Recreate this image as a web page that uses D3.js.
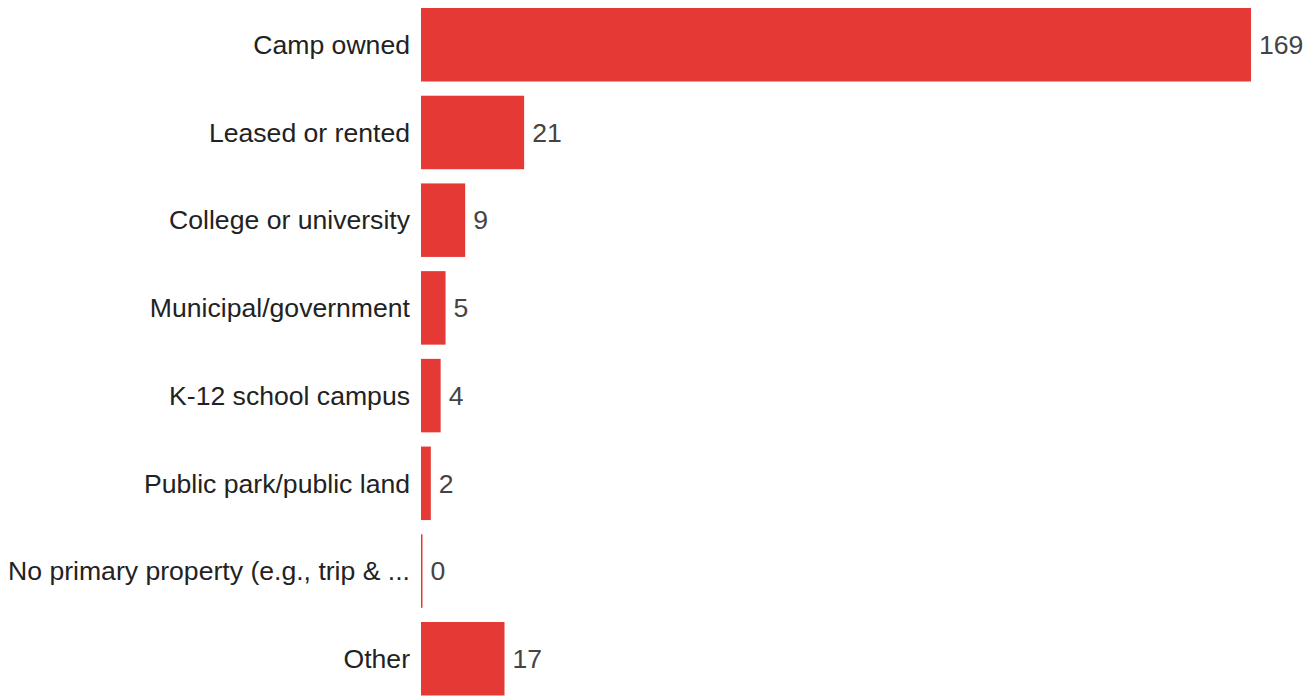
<!DOCTYPE html>
<html>
<head>
<meta charset="utf-8">
<script src="https://cdn.jsdelivr.net/npm/d3@7"></script>
<style>
  html, body { margin: 0; padding: 0; background: #fff; }
  svg { display: block; font-family: "Liberation Sans", Arial, Helvetica, sans-serif; }
</style>
</head>
<body>
<svg id="chart" width="1315" height="696"></svg>
<script>
// Primary property type for camp operations
const categories = [
  "Camp owned",
  "Leased or rented",
  "College or university",
  "Municipal/government",
  "K-12 school campus",
  "Public park/public land",
  "No primary property (e.g., trip & ...",
  "Other"
];
const counts = [169, 21, 9, 5, 4, 2, 0, 17];

const width = 1315, height = 696;
const svg = d3.select("#chart");

const x = d3.scaleLinear().domain([0, 169]).range([421, 1251]);
const y = d3.scaleBand()
  .domain(categories)
  .range([0, 703.5])
  .paddingInner(0.162)
  .paddingOuter(0.0912);

const rows = svg.append("g").selectAll("g")
  .data(categories.map((c, i) => ({ c, v: counts[i] })))
  .join("g");

rows.append("rect")
  .attr("x", x(0))
  .attr("y", d => y(d.c))
  .attr("height", y.bandwidth())
  .attr("width", d => Math.max(1.5, x(d.v) - x(0)))
  .attr("fill", "#e53935");

rows.append("text")
  .attr("x", x(0) - 11)
  .attr("y", d => y(d.c) + y.bandwidth() / 2)
  .attr("dy", "0.35em")
  .attr("text-anchor", "end")
  .attr("font-size", 26.6)
  .attr("fill", "#222")
  .text(d => d.c);

rows.append("text")
  .attr("x", d => Math.max(x(d.v), x(0) + 1.5) + 8)
  .attr("y", d => y(d.c) + y.bandwidth() / 2)
  .attr("dy", "0.35em")
  .attr("font-size", 26.6)
  .attr("fill", "#444")
  .text(d => d.v);
</script>
</body>
</html>
